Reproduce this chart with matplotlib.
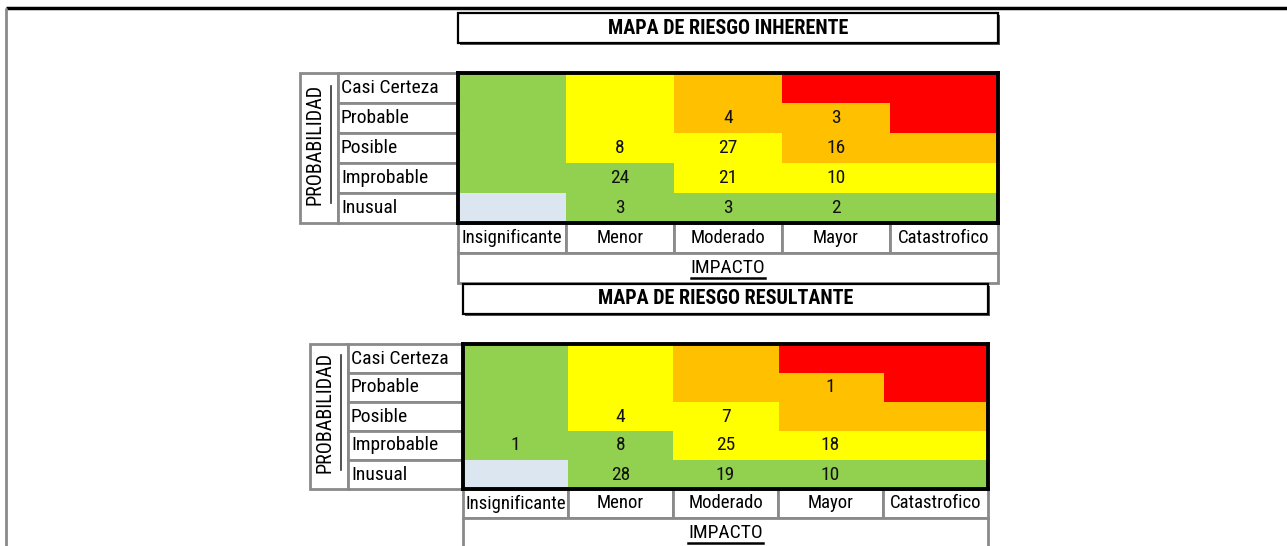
import matplotlib
matplotlib.use('Agg')
import matplotlib.pyplot as plt
from matplotlib.colors import ListedColormap
from matplotlib.patches import Rectangle
import matplotlib.transforms as mtransforms
from matplotlib import font_manager
import numpy as np

# ---------------- data ----------------
prob_labels = ["Casi Certeza", "Probable", "Posible", "Improbable", "Inusual"]
impact_labels = ["Insignificante", "Menor", "Moderado", "Mayor", "Catastrofico"]
# zone codes: 0 light blue, 1 green, 2 yellow, 3 orange, 4 red
zones = [[1, 2, 3, 4, 4],
         [1, 2, 3, 3, 4],
         [1, 2, 2, 3, 3],
         [1, 1, 2, 2, 2],
         [0, 1, 1, 1, 1]]
zone_colors = ["#DCE6F1", "#92D050", "#FFFF00", "#FFC000", "#FF0000"]
inherent_counts = [[None, None, None, None, None],
                   [None, None, 4, 3, None],
                   [None, 8, 27, 16, None],
                   [None, 24, 21, 10, None],
                   [None, 3, 3, 2, None]]
residual_counts = [[None, None, None, None, None],
                   [None, None, None, 1, None],
                   [None, 4, 7, None, None],
                   [1, 8, 25, 18, None],
                   [None, 28, 19, 10, None]]
title_inherent = "MAPA DE RIESGO INHERENTE"
title_residual = "MAPA DE RIESGO RESULTANTE"
axis_prob = "PROBABILIDAD"
axis_impact = "IMPACTO"

# ---------------- fonts ----------------
avail = {f.name for f in font_manager.fontManager.ttflist}
FONT = "Liberation Sans"
for cand in ["Liberation Sans Narrow", "Arial Narrow", "Roboto Condensed",
             "Archivo Narrow", "PT Sans Narrow", "Open Sans Condensed"]:
    if cand in avail:
        FONT = cand
        break
plt.rcParams['font.family'] = [FONT, 'DejaVu Sans']
NARROW = FONT != "Liberation Sans"
FS = 14 if NARROW else 13
FS_H = 13.5 if NARROW else 12.5
FS_P = 14.5 if NARROW else 13
FS_T = 14.5 if NARROW else 12.5

W, H = 1287, 546
fig = plt.figure(figsize=(W / 100, H / 100), dpi=100)
bg = fig.add_axes([0, 0, 1, 1])
bg.set_xlim(0, W)
bg.set_ylim(H, 0)
bg.axis('off')

GREY = "#8a8a8a"

# outer frame
bg.plot([6, W], [8, 8], color='black', lw=2.5, solid_capstyle='butt')
bg.plot([6, 6], [8, H], color=GREY, lw=2, solid_capstyle='butt')

cmap = ListedColormap(zone_colors)


def draw_map(counts, title, gx0, gx1, gy0, gy1, lab_x0, prob_x0, tbox, hdr_h, vline, prob_cx):
    # title box
    tx0, ty0, tx1, ty1 = tbox
    bg.add_patch(Rectangle((tx0 + 2, ty0 + 2), tx1 - tx0, ty1 - ty0, facecolor='#555555',
                           edgecolor='none', zorder=1))
    bg.add_patch(Rectangle((tx0, ty0), tx1 - tx0, ty1 - ty0, facecolor='white',
                           edgecolor='black', lw=1.6, zorder=2))
    bg.text((tx0 + tx1) / 2, (ty0 + ty1) / 2, title, ha='center', va='center',
            fontsize=FS_T, fontweight='bold', zorder=3)

    nrow = len(prob_labels)
    ncol = len(impact_labels)
    rh = (gy1 - gy0) / nrow
    cw = (gx1 - gx0) / ncol

    # probability box & label cells
    bg.add_patch(Rectangle((prob_x0, gy0), lab_x0 - prob_x0, gy1 - gy0, facecolor='white',
                           edgecolor=GREY, lw=2, zorder=2))
    for i in range(nrow):
        bg.add_patch(Rectangle((lab_x0, gy0 + i * rh), gx0 - lab_x0, rh, facecolor='white',
                               edgecolor=GREY, lw=2, zorder=2))
    # header cells
    for j in range(ncol):
        bg.add_patch(Rectangle((gx0 + j * cw, gy1), cw, hdr_h, facecolor='white',
                               edgecolor=GREY, lw=2, zorder=2))
    bg.add_patch(Rectangle((gx0, gy1 + hdr_h), gx1 - gx0, hdr_h, facecolor='white',
                           edgecolor=GREY, lw=2, zorder=2))
    bg.plot([vline[0], vline[0]], [vline[1], vline[2]], color='#333333', lw=1.2, zorder=3)
    bg.text(prob_cx, (gy0 + gy1) / 2 - 4, axis_prob, rotation=90, ha='center', va='center',
            fontsize=FS_P, zorder=3)

    # heat map axes
    ax = fig.add_axes([gx0 / W, 1 - gy1 / H, (gx1 - gx0) / W, (gy1 - gy0) / H])
    ax.imshow(np.array(zones), cmap=cmap, vmin=-0.5, vmax=len(zone_colors) - 0.5,
              aspect='auto', interpolation='nearest',
              extent=(-0.5, ncol - 0.5, nrow - 0.5, -0.5))
    ax.set_xticks([])
    ax.set_yticks([])
    for s in ax.spines.values():
        s.set_linewidth(2.8)
        s.set_color('black')
    for i in range(nrow):
        for j in range(ncol):
            v = counts[i][j]
            if v is not None:
                ax.text(j, i, str(v), ha='center', va='center', fontsize=FS, color='#111111')

    # row labels
    trans_y = mtransforms.blended_transform_factory(ax.transAxes, ax.transData)
    xl = (lab_x0 + 3 - gx0) / (gx1 - gx0)
    for i, lab in enumerate(prob_labels):
        ax.text(xl, i, lab, transform=trans_y, ha='left', va='center', fontsize=FS,
                clip_on=False)
    # column labels
    trans_x = mtransforms.blended_transform_factory(ax.transData, ax.transAxes)
    yh = -(hdr_h / 2) / (gy1 - gy0)
    for j, lab in enumerate(impact_labels):
        ax.text(j, yh, lab, transform=trans_x, ha='center', va='center', fontsize=FS_H,
                clip_on=False)
    yi = -(hdr_h * 1.5) / (gy1 - gy0)
    t = ax.text(0.5, yi, axis_impact, transform=ax.transAxes, ha='center', va='center',
                fontsize=FS, clip_on=False)
    return t


t1 = draw_map(inherent_counts, title_inherent, 458, 998, 73, 223, 338, 300,
              (458, 13, 998, 43), 30, (331, 86, 203), 315)
t2 = draw_map(residual_counts, title_residual, 463, 988, 344, 489, 348, 310,
              (463, 284, 988, 314), 29, (341, 355, 470), 325)

# underline IMPACTO
fig.canvas.draw()
r = fig.canvas.get_renderer()
for t in (t1, t2):
    bb = t.get_window_extent(r)
    y = H - bb.y0 + 1
    bg.plot([bb.x0, bb.x1], [y, y], color='black', lw=1.8, zorder=5)

fig.savefig('out.png', dpi=100)
